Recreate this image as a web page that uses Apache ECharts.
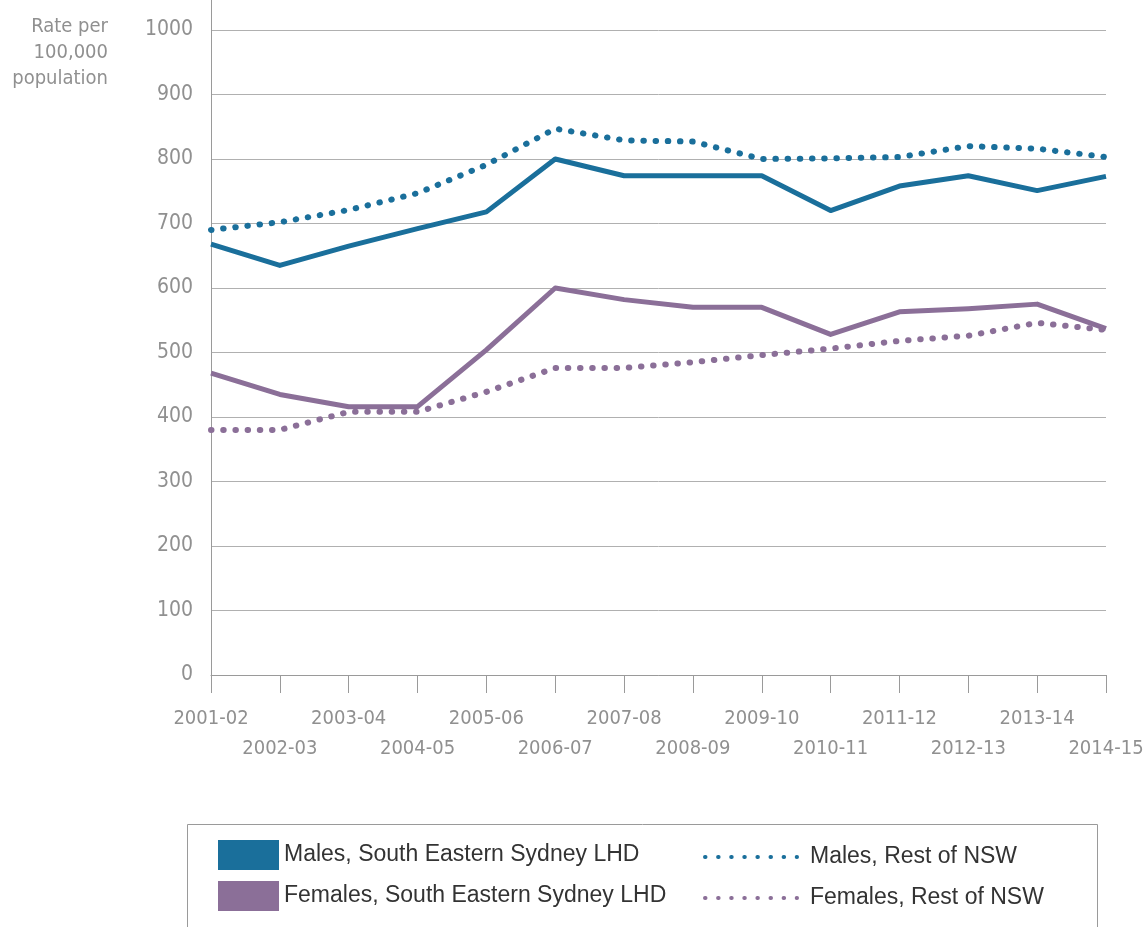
<!DOCTYPE html>
<html>
<head>
<meta charset="utf-8">
<title>Rate per 100,000 population</title>
<script src="https://cdn.jsdelivr.net/npm/echarts@6/dist/echarts.min.js"></script>
<style>
  html, body { margin: 0; padding: 0; background: #fff; }
  #chart { width: 1143px; height: 927px; }
</style>
</head>
<body>
<div id="chart"></div>
<script>
var years = ['2001-02', '2002-03', '2003-04', '2004-05', '2005-06', '2006-07', '2007-08',
  '2008-09', '2009-10', '2010-11', '2011-12', '2012-13', '2013-14', '2014-15'];
var yTicks = [0, 100, 200, 300, 400, 500, 600, 700, 800, 900, 1000];

var malesLhd = [668, 635, 665, 692, 718, 800, 774, 774, 774, 720, 758, 774, 751, 773];
var femalesLhd = [468, 435, 416, 416, 504, 600, 582, 570, 570, 528, 563, 568, 575, 537];
var malesNsw = [690, 702, 721, 747, 791, 847, 829, 827, 800, 801, 803, 820, 816, 803];
var femalesNsw = [380, 380, 408, 408, 439, 476, 476, 485, 496, 506, 518, 526, 546, 535];

var blue = '#1a6f9b';
var purple = '#8b6f98';
var grey = '#909090';
var narrow = '"DejaVu Sans Condensed", "Liberation Sans Narrow", sans-serif';
var legendFont = '"Liberation Sans", Arial, sans-serif';

var myChart = echarts.init(document.getElementById('chart'));

function solid(name, data, color) {
  return {
    name: name, type: 'line', data: data, color: color,
    symbol: 'none',
    lineStyle: { width: 5, color: color, join: 'round' }
  };
}
function dotted(name, data, color) {
  return {
    name: name, type: 'line', data: data, color: color,
    symbol: 'none',
    lineStyle: { width: 6, color: color, type: [0.5, 11.7], cap: 'round', join: 'round' }
  };
}

var option = {
  animation: false,
  backgroundColor: '#fff',
  grid: { left: 211, right: 37, top: 30, bottom: 252, outerBoundsMode: 'none', containLabel: false },
  xAxis: {
    type: 'category',
    data: years,
    boundaryGap: false,
    axisLine: { lineStyle: { color: '#9a9a9a', width: 1 } },
    axisTick: { show: true, length: 18, interval: 0, lineStyle: { color: '#9a9a9a' } },
    axisLabel: {
      interval: 0,
      margin: 29,
      color: grey,
      fontFamily: narrow,
      fontSize: 20,
      lineHeight: 30,
      hideOverlap: false,
      formatter: function (v, i) { return i % 2 === 0 ? v : '\n' + v; }
    },
    splitLine: { show: false }
  },
  yAxis: {
    type: 'value',
    min: yTicks[0],
    max: yTicks[yTicks.length - 1],
    interval: 100,
    axisLine: { show: true, lineStyle: { color: '#9a9a9a', width: 1 } },
    axisTick: { show: false },
    axisLabel: {
      margin: 18, color: grey, fontFamily: narrow, fontSize: 21,
      formatter: function (v) { return String(v); }
    },
    splitLine: { lineStyle: { color: '#b0b0b0', width: 1 } }
  },
  legend: [
    {
      orient: 'vertical',
      left: 218, top: 840, padding: 0,
      icon: 'rect',
      itemWidth: 61, itemHeight: 30, itemGap: 11,
      itemStyle: { borderWidth: 0 },
      textStyle: { color: '#333', fontSize: 23, fontFamily: legendFont },
      data: ['Males, South Eastern Sydney LHD', 'Females, South Eastern Sydney LHD']
    },
    {
      orient: 'vertical',
      left: 703, top: 845, padding: 0,
      itemWidth: 92, itemHeight: 30, itemGap: 17,
      itemStyle: { color: 'rgba(0,0,0,0)', borderWidth: 0 },
      lineStyle: { width: 4, type: [0.5, 12.6], cap: 'round' },
      textStyle: { color: '#333', fontSize: 23, fontFamily: legendFont, padding: [0, 0, 0, 8] },
      data: ['Males, Rest of NSW', 'Females, Rest of NSW']
    }
  ],
  graphic: [
    {
      type: 'text', x: 108, y: 14,
      style: {
        text: 'Rate per\n100,000\npopulation',
        fill: grey, font: '20px ' + narrow, lineHeight: 26, align: 'right'
      }
    },
    {
      type: 'line', shape: { x1: 211.5, y1: 0, x2: 211.5, y2: 30 },
      style: { stroke: '#9a9a9a', lineWidth: 1 }
    },
    {
      type: 'rect', z: -1,
      shape: { x: 187.5, y: 824.5, width: 910, height: 130 },
      style: { fill: 'none', stroke: '#9a9a9a', lineWidth: 1 }
    }
  ],
  series: [
    solid('Males, South Eastern Sydney LHD', malesLhd, blue),
    solid('Females, South Eastern Sydney LHD', femalesLhd, purple),
    dotted('Males, Rest of NSW', malesNsw, blue),
    dotted('Females, Rest of NSW', femalesNsw, purple)
  ]
};

myChart.setOption(option);
</script>
</body>
</html>
